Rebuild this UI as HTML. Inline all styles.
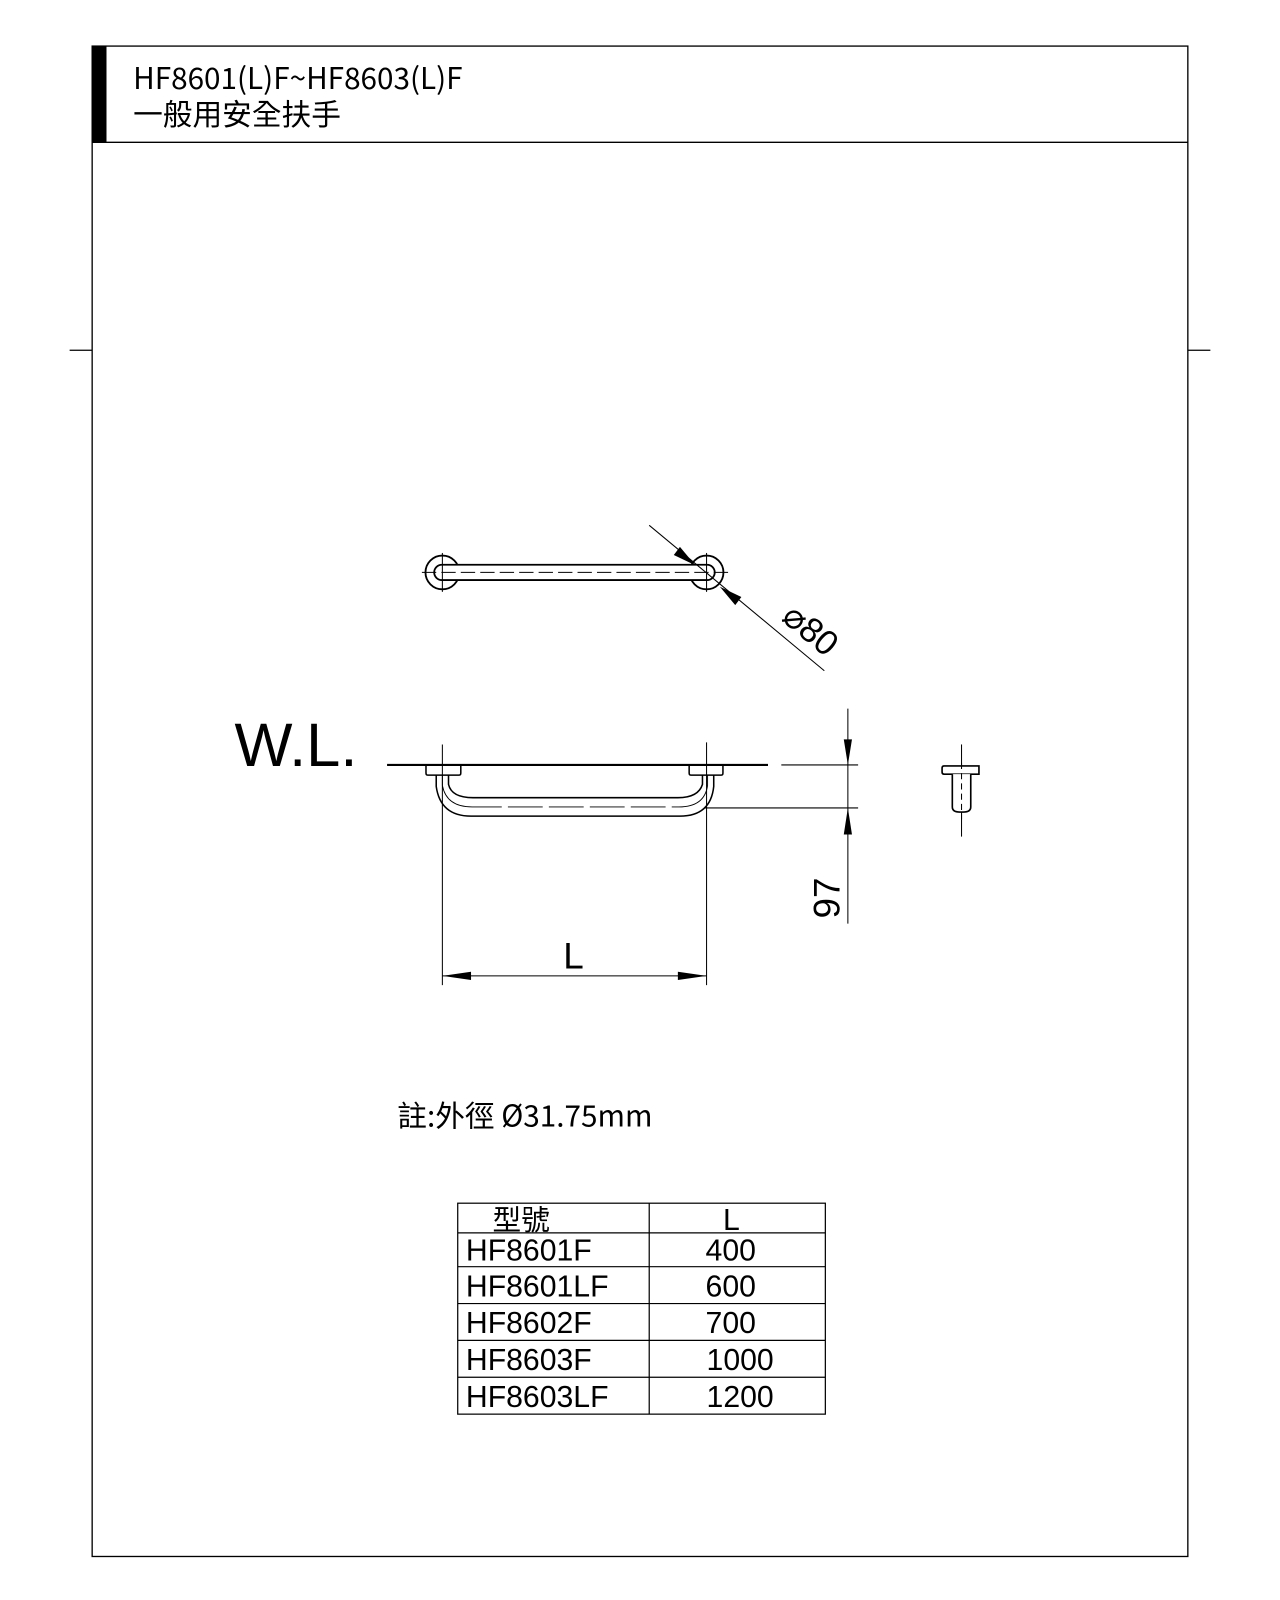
<!DOCTYPE html>
<html><head><meta charset="utf-8">
<style>
html,body{margin:0;padding:0;background:#fff;}
svg{display:block;}
text{font-family:"Liberation Sans","Noto Sans CJK TC",sans-serif;fill:#000;}
</style></head>
<body>
<svg width="1280" height="1600" viewBox="0 0 1250 1562.5" xmlns="http://www.w3.org/2000/svg">
<rect x="0" y="0" width="1250" height="1562.5" fill="#fff"/>
<!-- frame -->
<rect x="90" y="45" width="1070" height="1475" fill="none" stroke="#000" stroke-width="1.3"/>
<line x1="90" y1="139" x2="1160" y2="139" stroke="#000" stroke-width="1.3"/>
<rect x="90" y="45" width="14" height="94" fill="#000"/>
<line x1="68" y1="342" x2="90" y2="342" stroke="#000" stroke-width="1.2"/>
<line x1="1160" y1="342" x2="1182" y2="342" stroke="#000" stroke-width="1.2"/>
<text x="130" y="87" font-size="29" style="font-family:'Noto Sans CJK TC',sans-serif">HF8601(L)F~HF8603(L)F</text>
<text x="130" y="122" font-size="29" style="font-family:'Noto Sans CJK TC',sans-serif">一般用安全扶手</text>

<!-- top view -->
<g fill="none" stroke="#000" stroke-width="1.8">
<circle cx="432" cy="559" r="16.5"/>
<circle cx="690" cy="559" r="16.5"/>
<rect x="424" y="551.5" width="274" height="15" rx="7.5" fill="#fff"/>
</g>
<g stroke="#000" stroke-width="1">
<line x1="412" y1="559" x2="711" y2="559" stroke-dasharray="14,5"/>
<line x1="432" y1="540" x2="432" y2="578"/>
<line x1="690" y1="540" x2="690" y2="578"/>
<line x1="634" y1="513" x2="805" y2="655"/>
</g>
<polygon points="679,552 664,534 658,542" fill="#000"/>
<polygon points="703,573 718,591 724,583" fill="#000"/>
<text x="0" y="0" font-size="34" transform="translate(762,605) rotate(40)">⌀80</text>

<!-- front view -->
<text x="229" y="748" font-size="60">W.L.</text>
<line x1="378" y1="747" x2="750" y2="747" stroke="#000" stroke-width="2"/>
<line x1="763" y1="747" x2="838" y2="747" stroke="#000" stroke-width="1"/>
<g fill="none" stroke="#000" stroke-width="1.5">
<path d="M416,747 V755 Q416,757 418,757 H448 Q450,757 450,755 V747"/>
<path d="M673,747 V755 Q673,757 675,757 H704 Q706,757 706,755 V747"/>
<path d="M426,757 V768 Q430,797 460,797 H664 Q694,797 697,768 V757"/>
<path d="M438,757 V766 Q441,779 462,779 H662 Q682,779 686,766 V757"/>
</g>
<g fill="none" stroke="#000" stroke-width="0.9">
<path d="M432,757 V767 Q436,788 461,788 H663 Q688,788 691,767 V757"/>
</g>
<line x1="462" y1="788" x2="662" y2="788" stroke="#fff" stroke-width="1.5" stroke-dasharray="0,28,6,6"/>
<g stroke="#000" stroke-width="1">
<line x1="432" y1="727" x2="432" y2="962"/>
<line x1="690" y1="725" x2="690" y2="962"/>
<line x1="688" y1="789" x2="838" y2="789"/>
<line x1="828" y1="692" x2="828" y2="902"/>
<line x1="432" y1="953" x2="690" y2="953"/>
</g>
<polygon points="828,747 824,722 832,722" fill="#000"/>
<polygon points="828,789 824,815 832,815" fill="#000"/>
<polygon points="432,953 460,949 460,957" fill="#000"/>
<polygon points="690,953 662,949 662,957" fill="#000"/>
<text x="0" y="0" font-size="36" transform="translate(820,897) rotate(-90)">97</text>
<text x="550" y="946" font-size="36">L</text>

<!-- side view -->
<line x1="939" y1="727" x2="939" y2="817" stroke="#000" stroke-width="1"/>
<g fill="none" stroke="#000" stroke-width="1.6">
<path d="M922,748 H956 V756 H922 Q920,756 920,754 V750 Q920,748 922,748 Z" fill="#fff"/>
<path d="M930,756 V788 Q930,793 937,793 H941 Q948,793 948,788 V756" fill="#fff"/>
</g>
<line x1="939" y1="745" x2="939" y2="800" stroke="#000" stroke-width="1" stroke-dasharray="6,4"/>

<!-- note -->
<text x="388" y="1100" font-size="29" style="font-family:'Noto Sans CJK TC',sans-serif">註:外徑 Ø31.75mm</text>

<!-- table -->
<g stroke="#000" stroke-width="1.2" fill="none">
<rect x="447" y="1175" width="359" height="206"/>
<line x1="634" y1="1175" x2="634" y2="1381"/>
<line x1="447" y1="1204" x2="806" y2="1204"/>
<line x1="447" y1="1237" x2="806" y2="1237"/>
<line x1="447" y1="1273" x2="806" y2="1273"/>
<line x1="447" y1="1309" x2="806" y2="1309"/>
<line x1="447" y1="1345" x2="806" y2="1345"/>
</g>
<g font-size="29.5">
<text x="481" y="1201" style="font-family:'Noto Sans CJK TC',sans-serif" font-size="28">型號</text>
<text x="706" y="1201">L</text>
<text x="455" y="1231">HF8601F</text><text x="689" y="1231">400</text>
<text x="455" y="1266">HF8601LF</text><text x="689" y="1266">600</text>
<text x="455" y="1302">HF8602F</text><text x="689" y="1302">700</text>
<text x="455" y="1338">HF8603F</text><text x="690" y="1338">1000</text>
<text x="455" y="1374">HF8603LF</text><text x="690" y="1374">1200</text>
</g>
</svg>
</body></html>
